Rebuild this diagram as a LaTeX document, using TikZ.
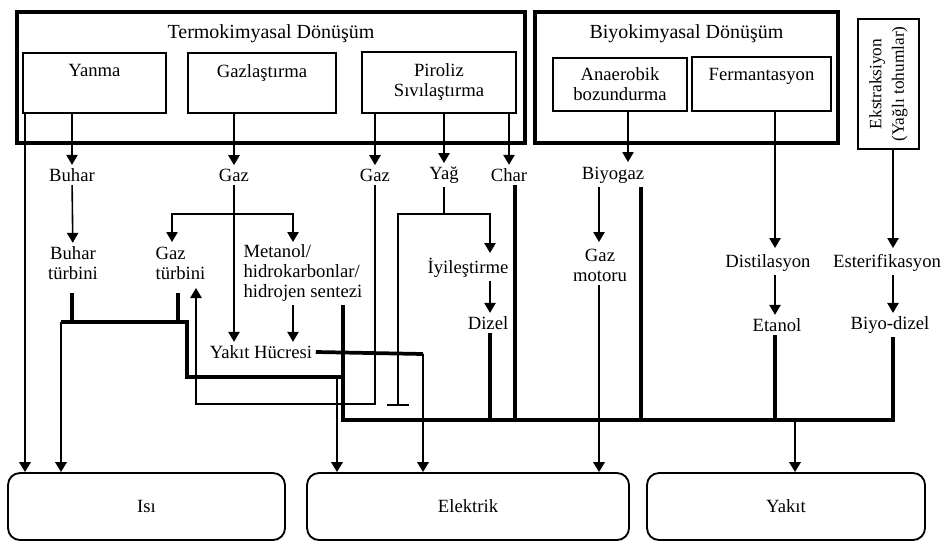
\documentclass[tikz,border=0pt]{standalone}
\usepackage{fontspec}
\setmainfont{Liberation Serif}
\usetikzlibrary{arrows.meta,positioning}
\tikzset{
  grp/.style={draw, line width=2.8pt, inner sep=0pt},
  proc/.style={draw, line width=2.2pt, inner sep=0pt, align=center},
  lbl/.style={inner sep=2.5pt, align=center},
  arr/.style={line width=1.2pt, -{Triangle[width=8.5pt,length=7.5pt]}},
  thk/.style={line width=2.8pt},
  outarr/.style={line width=1.8pt, -{Triangle[width=8.5pt,length=7.5pt]}},
  outbox/.style={draw, line width=1.4pt, rounded corners=9pt, inner sep=0pt},
}

\begin{document}
\begin{tikzpicture}[x=0.75pt, y=-0.75pt, font=\fontsize{14}{15}\selectfont]
    \useasboundingbox (0,0) rectangle (944,542);

    % ---- conversion groups
    \node[grp, minimum width=381pt, minimum height=98.25pt] (termo) at (271,77.5) {};
    \node[grp, minimum width=227.25pt, minimum height=98.25pt] (biyo) at (686.5,77.5) {};
    \node[lbl, below=8pt of termo.north, font=\fontsize{15}{16}\selectfont] (termoT) {Termokimyasal Dönüşüm};
    \node[lbl, below=8pt of biyo.north, font=\fontsize{15}{16}\selectfont] (biyoT) {Biyokimyasal Dönüşüm};

    \node[proc, minimum width=107.25pt, minimum height=45pt] (yanma) at (94.5,83) {};
    \node[proc, minimum width=111pt, minimum height=45pt] (gazl) at (262,83) {};
    \node[proc, minimum width=115.5pt, minimum height=45.75pt] (piroliz) at (439,82.5) {Piroliz\\Sıvılaştırma};
    \node[proc, minimum width=100.5pt, minimum height=39.75pt] (anaer) at (620,84.5) {Anaerobik\\bozundurma};
    \node[proc, minimum width=104.25pt, minimum height=40.5pt] (ferm) at (761.5,84) {};
    \node[lbl, below=7pt of yanma.north] (yanmaT) {Yanma};
    \node[lbl, below=7pt of gazl.north] (gazlT) {Gazlaştırma};
    \node[lbl, below=7pt of ferm.north] (fermT) {Fermantasyon};
    \node[draw, line width=2pt, minimum width=45.75pt, minimum height=97.5pt] (ekstr) at (888.5,84) {};
    \node[rotate=90, align=center, inner sep=0pt, font=\fontsize{13}{17}\selectfont] (ekstrT) at (ekstr.center) {Ekstraksiyon\\(Yağlı tohumlar)};

    % ---- products
    \node[lbl] (buhar) at (72,175) {Buhar};
    \node[lbl] (gaz1) at (234,175) {Gaz};
    \node[lbl] (gaz2) at (375,175) {Gaz};
    \node[lbl] (yag) at (444,175) {Yağ};
    \node[lbl] (char) at (509,175) {Char};
    \node[lbl] (biyogaz) at (613,175) {Biyogaz};
    \node[lbl] (buhart) at (73,263) {Buhar\\türbini};
    \node[lbl, align=left, anchor=west] (gazt) at (152,263) {Gaz\\türbini};
    \node[lbl, align=left, anchor=west] (metanol) at (240,273) {Metanol/\\hidrokarbonlar/\\hidrojen sentezi};
    \node[lbl] (yakit) at (261,352) {Yakıt Hücresi};
    \node[lbl] (iyi) at (468,268) {İyileştirme};
    \node[lbl] (dizel) at (488,323) {Dizel};
    \node[lbl] (gazmot) at (600,265) {Gaz\\motoru};
    \node[lbl] (distil) at (768,263) {Distilasyon};
    \node[lbl] (esteri) at (887,263) {Esterifikasyon};
    \node[lbl] (etanol) at (777,325) {Etanol};
    \node[lbl] (biyodiz) at (890,325) {Biyo-dizel};

    \node[outbox, minimum width=207.75pt, minimum height=50.25pt] (isi) at (146.5,506.5) {Isı};
    \node[outbox, minimum width=241.5pt, minimum height=50.25pt] (elek) at (468,506.5) {Elektrik};
    \node[outbox, minimum width=208.5pt, minimum height=50.25pt] (yakitb) at (786,506.5) {Yakıt};

    % ---- junctions
    \coordinate (IsA) at (25,113);
    \coordinate (Gs) at (234,214);
    \coordinate (GtIn) at (172,242);
    \coordinate (MtIn) at (293,242);
    \coordinate (GtUp) at (196,288);
    \coordinate (Lp) at (375,404);
    \coordinate (Ys) at (444,214);
    \coordinate (YEnd) at (398,405);
    \coordinate (IyIn) at (490,253);
    \coordinate (BgIn) at (628,162);
    \coordinate (GmIn) at (599,242);
    \coordinate (DsIn) at (775,248);
    \coordinate (EsIn) at (893,248);
    \coordinate (Tb1) at (72,293);
    \coordinate (Tb2) at (178,293);
    \coordinate (TbL) at (61,322);
    \coordinate (TbR) at (187,322);
    \coordinate (TbE) at (345,377);
    \coordinate (ElA) at (337,377);
    \coordinate (YhC) at (423,354);
    \coordinate (BusL) at (343,420);
    \coordinate (BusR) at (893,420);
    \coordinate (ChX) at (515,420);
    \coordinate (BgX) at (641,420);
    \coordinate (YkX) at (795,420);

    % ---- thin arrows
    \draw[outarr] (IsA) -- (IsA |- isi.north);
    \draw[arr] (yanma.south -| buhar) -- (buhar);
    \draw[arr] (buhar) -- (buhart);
    \draw[arr] (gazl.south -| gaz1) -- (gaz1);
    \draw[arr] (gaz1) -- (gaz1 |- yakit.north);
    \draw[arr] (Gs) -| (GtIn);
    \draw[arr] (Gs) -| (MtIn);
    \draw[arr] (metanol.south -| MtIn) -- (MtIn |- yakit.north);
    \draw[arr] (piroliz.south -| gaz2) -- (gaz2);
    \draw[arr] (piroliz.south -| yag) -- (yag);
    \draw[arr] (piroliz.south -| char) -- (char);
    \draw[arr] (gaz2) -- (Lp) -| (GtUp);
    \draw[line width=1.2pt] (yag) -- (Ys);
    \draw[arr] (Ys) -| (IyIn);
    \draw[line width=1.2pt] (Ys) -| (YEnd);
    \draw[line width=1.2pt] ([xshift=-8pt]YEnd) -- ([xshift=8pt]YEnd);
    \draw[arr] (iyi.south -| IyIn) -- (dizel.north -| IyIn);
    \draw[arr] (anaer.south -| BgIn) -- (BgIn);
    \draw[arr] (biyogaz.south -| GmIn) -- (GmIn);
    \draw[arr] (ferm.south -| DsIn) -- (DsIn);
    \draw[arr] (distil.south -| DsIn) -- (etanol.north -| DsIn);
    \draw[arr] (ekstr.south -| EsIn) -- (EsIn);
    \draw[arr] (esteri.south -| EsIn) -- (biyodiz.north -| EsIn);

    % ---- thick lines to outputs
    \draw[thk] (Tb1) -- (Tb1 |- TbL);
    \draw[thk] (Tb2) -- (Tb2 |- TbL);
    \draw[thk] (TbL) -- (TbR) -- (TbR |- TbE) -- (TbE);
    \draw[outarr] (TbL) -- (TbL |- isi.north);
    \draw[outarr] (ElA) -- (ElA |- elek.north);
    \draw[thk] (yakit.east) -- (YhC);
    \draw[outarr] (YhC) -- (YhC |- elek.north);
    \draw[outarr] (gazmot.south -| GmIn) -- (GmIn |- elek.north);
    \draw[thk] (metanol.south -| BusL) -- (BusL) -- (BusR) -- (biyodiz.south -| BusR);
    \draw[thk] (dizel.south -| IyIn) -- (IyIn |- BusL);
    \draw[thk] (char.south -| ChX) -- (ChX);
    \draw[thk] (biyogaz.south -| BgX) -- (BgX);
    \draw[thk] (etanol.south -| DsIn) -- (DsIn |- BusL);
    \draw[outarr] (YkX) -- (YkX |- yakitb.north);
\end{tikzpicture}
\end{document}
